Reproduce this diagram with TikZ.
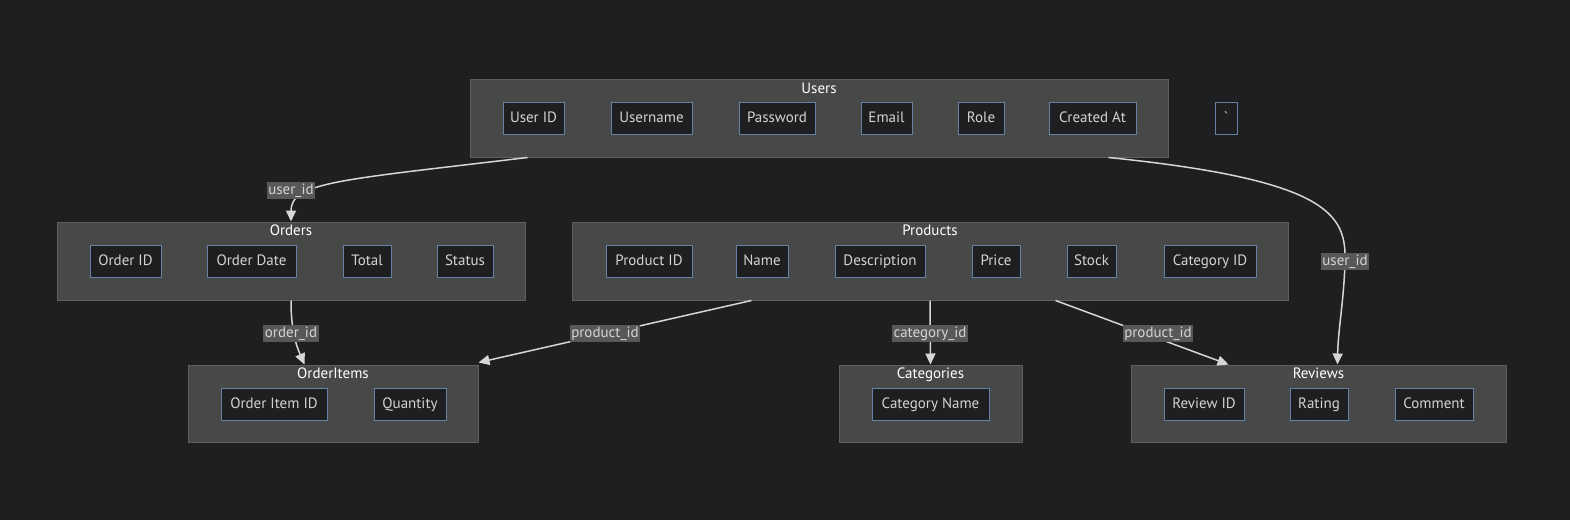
\documentclass[tikz,border=0pt]{standalone}
\usepackage{fontspec}
\setmainfont{PT Sans}
\usetikzlibrary{arrows.meta}

\definecolor{bgDark}{HTML}{1E1F21}
\definecolor{clusterFill}{HTML}{474848}
\definecolor{clusterLine}{HTML}{5E6060}
\definecolor{attrLine}{HTML}{6482A4}
\definecolor{attrText}{HTML}{D4D4D4}
\definecolor{edgeLine}{HTML}{D6D6D6}
\definecolor{labelFill}{HTML}{585858}

\begin{document}
\begin{tikzpicture}[x=1pt, y=-1pt,
  font=\fontsize{15}{17}\selectfont,
  cluster/.style={draw=clusterLine, fill=clusterFill, line width=1pt, inner sep=0pt},
  clustertitle/.style={text=white, inner sep=0pt, text height=11pt, text depth=3pt},
  attr/.style={draw=attrLine, fill=bgDark, text=attrText, line width=1pt,
    minimum height=32pt, inner sep=2pt, text height=11pt, text depth=3pt},
  rel/.style={draw=edgeLine, line width=1.5pt,
    -{Triangle[length=11pt, width=10pt]}},
  rellabel/.style={fill=labelFill, text=attrText, inner sep=1.5pt,
    text height=11pt, text depth=3pt}]
% background and page size
\fill[bgDark] (0,0) rectangle (1570,520);
\useasboundingbox (0,0) rectangle (1570,520);

%--- USERS ---
\node[cluster, minimum width=698pt, minimum height=78pt] (users) at (819,118) {};
\node[clustertitle] (usersTitle) at (819,89) {Users};
\node[attr, minimum width=61pt] (userId) at (533.5,118) {User ID};
\node[attr, minimum width=81pt] (userName) at (651.5,118) {Username};
\node[attr, minimum width=76pt] (userPass) at (777,118) {Password};
\node[attr, minimum width=51pt] (userMail) at (886.5,118) {Email};
\node[attr, minimum width=46pt] (userRole) at (981,118) {Role};
\node[attr, minimum width=87pt] (userCreated) at (1092.5,118) {Created At};
% stray node outside the box
\node[attr, minimum width=22pt] (stray) at (1226,118) {\textasciigrave};

%--- ORDERS ---
\node[cluster, minimum width=468pt, minimum height=78pt] (orders) at (291,261) {};
\node[clustertitle] (ordersTitle) at (291,231) {Orders};
\node[attr, minimum width=71pt] (orderId) at (125.5,261) {Order ID};
\node[attr, minimum width=89pt] (orderDate) at (251.5,261) {Order Date};
\node[attr, minimum width=48pt] (orderTotal) at (367,261) {Total};
\node[attr, minimum width=56pt] (orderStatus) at (465,261) {Status};

%--- PRODUCTS ---
\node[cluster, minimum width=716pt, minimum height=78pt] (products) at (930,261) {};
\node[clustertitle] (productsTitle) at (930,231) {Products};
\node[attr, minimum width=86pt] (productId) at (649,261) {Product ID};
\node[attr, minimum width=52pt] (productName) at (762,261) {Name};
\node[attr, minimum width=90pt] (productDesc) at (880,261) {Description};
\node[attr, minimum width=48pt] (productPrice) at (996,261) {Price};
\node[attr, minimum width=49pt] (productStock) at (1091.5,261) {Stock};
\node[attr, minimum width=92pt] (productCat) at (1210,261) {Category ID};

%--- ORDER ITEMS ---
\node[cluster, minimum width=290pt, minimum height=77pt] (items) at (333,403.5) {};
\node[clustertitle] (itemsTitle) at (333,374) {OrderItems};
\node[attr, minimum width=106pt] (itemId) at (274,404) {Order Item ID};
\node[attr, minimum width=72pt] (itemQty) at (410,404) {Quantity};

%--- CATEGORIES ---
\node[cluster, minimum width=183pt, minimum height=77pt] (categories) at (930.5,403.5) {};
\node[clustertitle] (categoriesTitle) at (930.5,374) {Categories};
\node[attr, minimum width=117pt] (categoryName) at (930.5,404) {Category Name};

%--- REVIEWS ---
\node[cluster, minimum width=375pt, minimum height=77pt] (reviews) at (1318.5,403.5) {};
\node[clustertitle] (reviewsTitle) at (1318.5,374) {Reviews};
\node[attr, minimum width=80pt] (reviewId) at (1204,404) {Review ID};
\node[attr, minimum width=58pt] (reviewRating) at (1319,404) {Rating};
\node[attr, minimum width=78pt] (reviewComment) at (1434,404) {Comment};

%--- RELATIONS ---
\draw[rel] ([xshift=58pt]users.south west)
  .. controls (340,180) and (291,182) .. (orders.north);
\draw[rel] ([xshift=-60pt]users.south east)
  .. controls (1330,180) and (1346,215) .. (1345,261)
  .. controls (1344,300) and (1338,330) .. ([xshift=207pt]reviews.north west);
\draw[rel] (orders.south)
  .. controls (291,330) and (296,345) .. ([xshift=117pt]items.north west);
\draw[rel] ([xshift=180pt]products.south west) -- ([yshift=2pt]items.north east);
\draw[rel] (products.south) -- (categories.north);
\draw[rel] ([xshift=-233pt]products.south east) -- ([xshift=98pt]reviews.north west);

% labels on the relations
\node[rellabel] (ordersLabel) at (291,190) {user\_id};
\node[rellabel] (reviewsLabel) at (1345,261) {user\_id};
\node[rellabel] (itemsLabel) at (291,333) {order\_id};
\node[rellabel] (itemsProdLabel) at (605,333) {product\_id};
\node[rellabel] (categoriesLabel) at (930,333) {category\_id};
\node[rellabel] (reviewsProdLabel) at (1158,333) {product\_id};
\end{tikzpicture}
\end{document}
